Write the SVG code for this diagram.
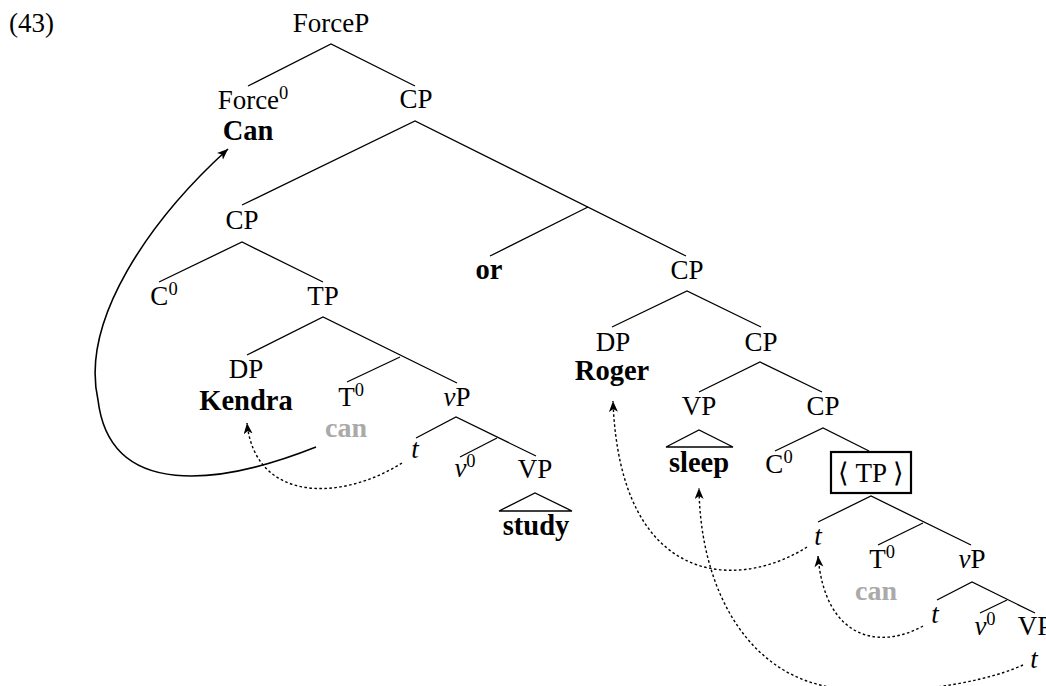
<svg xmlns="http://www.w3.org/2000/svg" width="1046" height="686" viewBox="0 0 1046 686">
<defs>
<style>
text{font-family:"Liberation Serif","Times New Roman",serif;font-size:27px;fill:#000}
.m{text-anchor:middle}
.b{font-weight:bold;font-size:28.5px}
.g{fill:#aaaaaa;font-weight:bold;font-size:28px}
.i{font-style:italic}
.sup{font-size:18.5px}
.e{stroke:#000;stroke-width:1.3;fill:none}
.dot{stroke:#000;stroke-width:1.4;fill:none;stroke-dasharray:2.6 2.4}
.sol{stroke:#000;stroke-width:1.6;fill:none}
</style>
<marker id="ah" markerWidth="13" markerHeight="10" refX="11" refY="4.5" orient="auto" markerUnits="userSpaceOnUse">
<path d="M0,0 L11,4.5 L0,9 L3,4.5 Z" fill="#000"/>
</marker>
</defs>
<rect width="1046" height="686" fill="#fff"/>
<text x="9" y="32">(43)</text>

<g id="edges">
<path class="e" d="M248,86 L331,44 L415,86"/>
<path class="e" d="M242,205 L415,121 L686,256"/>
<path class="e" d="M588,207 L490,256"/>
<path class="e" d="M159,282 L242,242 L323,282"/>
<path class="e" d="M247,355 L323,317 L457,383"/>
<path class="e" d="M400,357 L347,382"/>
<path class="e" d="M416,438 L456,417 L536,456"/>
<path class="e" d="M497,438 L460,457"/>
<path class="e" d="M612,327 L687,291 L761,327"/>
<path class="e" d="M699,392 L760,362 L822,392"/>
<path class="e" d="M775,451 L823,428 L869,451"/>
<path class="e" d="M818,522 L871,496 L971,545"/>
<path class="e" d="M923,523 L878,545"/>
<path class="e" d="M937,600 L972,582 L1035,613"/>
<path class="e" d="M1007,600 L980,613"/>
</g>

<g id="n-forcep"><text class="m" x="331" y="32">ForceP</text></g>
<g id="n-force0"><text class="m" x="253" y="109">Force<tspan class="sup" dy="-10">0</tspan></text><text class="m b" x="248" y="140">Can</text></g>
<g id="n-cp1"><text class="m" x="416" y="108">CP</text></g>
<g id="n-cp2"><text class="m" x="242" y="229">CP</text></g>
<g id="n-or"><text class="m b" x="489" y="279">or</text></g>
<g id="n-cp3"><text class="m" x="687" y="279">CP</text></g>
<g id="n-c0a"><text class="m" x="164" y="305">C<tspan class="sup" dy="-10">0</tspan></text></g>
<g id="n-tp1"><text class="m" x="323" y="305">TP</text></g>
<g id="n-dp1"><text class="m" x="246" y="378">DP</text><text class="m b" x="246" y="410">Kendra</text></g>
<g id="n-t0a"><text class="m" x="351" y="406">T<tspan class="sup" dy="-10">0</tspan></text><text class="m g" x="346" y="437">can</text></g>
<g id="n-vp1"><text class="m" x="457" y="406"><tspan class="i">v</tspan>P</text></g>
<g id="n-t1"><text class="m i" x="415" y="458">t</text></g>
<g id="n-v0a"><text class="m" x="465" y="477"><tspan class="i">v</tspan><tspan class="sup" dy="-10">0</tspan></text></g>
<g id="n-vpa"><text class="m" x="535" y="478">VP</text><path class="e" d="M499,511 L535,493 L572,511 Z"/><text class="m b" x="536" y="535">study</text></g>
<g id="n-dp2"><text class="m" x="613" y="351">DP</text><text class="m b" x="612" y="380">Roger</text></g>
<g id="n-cp4"><text class="m" x="761" y="351">CP</text></g>
<g id="n-vpb"><text class="m" x="699" y="415">VP</text><path class="e" d="M666,447 L699,430 L733,447 Z"/><text class="m b" x="699" y="472">sleep</text></g>
<g id="n-cp5"><text class="m" x="823" y="415">CP</text></g>
<g id="n-c0b"><text class="m" x="779" y="473">C<tspan class="sup" dy="-10">0</tspan></text></g>
<g id="n-tp2"><rect x="831" y="452" width="80" height="41" fill="none" stroke="#000" stroke-width="2.2"/><text class="m" x="871" y="482">⟨ TP ⟩</text></g>
<g id="n-t2"><text class="m i" x="818" y="545">t</text></g>
<g id="n-t0b"><text class="m" x="882" y="568">T<tspan class="sup" dy="-10">0</tspan></text><text class="m g" x="876" y="600">can</text></g>
<g id="n-vp2"><text class="m" x="972" y="568"><tspan class="i">v</tspan>P</text></g>
<g id="n-t3"><text class="m i" x="935" y="623">t</text></g>
<g id="n-v0b"><text class="m" x="985" y="635"><tspan class="i">v</tspan><tspan class="sup" dy="-10">0</tspan></text></g>
<g id="n-vpc"><text class="m" x="1035" y="635">VP</text></g>
<g id="n-t4"><text class="m i" x="1034" y="668">t</text></g>

<g id="arrows">
<path class="sol" marker-end="url(#ah)" d="M316,447 C220,485 110,500 98,400 C80,320 150,220 228,149"/>
<path class="dot" marker-end="url(#ah)" d="M402,463 C340,502 255,502 247,423"/>
<path class="dot" marker-end="url(#ah)" d="M807,547 C740,590 620,590 613,401"/>
<path class="dot" marker-end="url(#ah)" d="M923,626 C880,650 825,640 818,556"/>
<path class="dot" marker-end="url(#ah)" d="M1023,665 C980,685 880,700 820,685 C740,665 700,580 699,488"/>
</g>
</svg>
